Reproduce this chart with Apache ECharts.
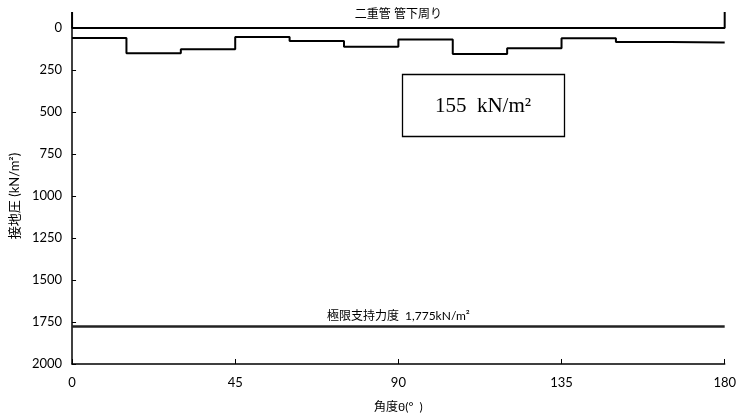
<!DOCTYPE html>
<html lang="ja">
<head>
    <meta charset="utf-8" />
    <title>接地圧</title>
    <script src="https://cdn.jsdelivr.net/npm/echarts@6/dist/echarts.min.js"></script>
    <style>
        html, body { margin: 0; padding: 0; background: #fff; }
        #main { width: 739px; height: 418px; }
    </style>
</head>
<body>
    <div id="main"></div>
    <script>
        // 角度ごとの接地圧 (階段状)
        var angles = [0, 15, 30, 45, 60, 75, 90, 105, 120, 135, 150, 165, 180];
        var pressure = [60, 150, 127, 54, 77, 111, 69, 155, 121, 61, 83, 87, 87];
        // 二重管 管下周り の範囲
        var pipeRange = [0, 180];
        var pipeEnd = -95;
        var limitValue = 1775;
        var font = 'Lato, "Noto Sans CJK JP", sans-serif';

        var stepData = angles.map(function (a, i) { return [a, pressure[i]]; });
        var bracketData = [
            [pipeRange[0], pipeEnd], [pipeRange[0], 0],
            [pipeRange[1], 0], [pipeRange[1], pipeEnd]
        ];

        var chart = echarts.init(document.getElementById('main'));
        chart.setOption({
            animation: false,
            textStyle: { fontFamily: font },
            grid: { left: 70, right: 10, top: 28, bottom: 54 },
            xAxis: {
                type: 'value',
                min: 0, max: 180, interval: 45,
                name: '角度θ(°  )',
                nameLocation: 'middle',
                nameGap: 37,
                nameTextStyle: { fontSize: 12, color: '#000', fontFamily: font },
                axisLine: { onZero: false, lineStyle: { color: '#000', width: 1.5 } },
                axisTick: { inside: true, length: 5, lineStyle: { color: '#000' } },
                axisLabel: { color: '#000', fontSize: 13, margin: 12 },
                splitLine: { show: false }
            },
            yAxis: {
                type: 'value',
                inverse: true,
                min: 0, max: 2000, interval: 250,
                name: '接地圧 (kN/m²)',
                nameLocation: 'middle',
                nameGap: 42,
                nameTextStyle: { fontSize: 13, color: '#000', fontFamily: font },
                axisLine: { show: true, lineStyle: { color: '#000', width: 1.5 } },
                axisTick: { show: true, inside: true, length: 4, lineStyle: { color: '#000' } },
                axisLabel: {
                    color: '#000', fontSize: 13, margin: 10,
                    formatter: function (v) { return String(v); }
                },
                splitLine: { show: false }
            },
            series: [
                {
                    type: 'line',
                    data: stepData,
                    step: 'end',
                    symbol: 'none',
                    lineStyle: { color: '#000', width: 2 }
                },
                {
                    type: 'line',
                    data: bracketData,
                    symbol: 'none',
                    clip: false,
                    lineStyle: { color: '#000', width: 2 },
                    markLine: {
                        silent: true,
                        symbol: 'none',
                        lineStyle: { color: '#000', width: 2, type: 'solid' },
                        label: {
                            position: 'insideMiddleTop',
                            distance: 8,
                            color: '#000',
                            fontSize: 12,
                            fontFamily: font,
                            formatter: '二重管 管下周り'
                        },
                        data: [{ yAxis: 0 }]
                    }
                },
                {
                    type: 'line',
                    data: [],
                    markLine: {
                        silent: true,
                        symbol: 'none',
                        lineStyle: { color: '#222', width: 2.5, type: 'solid' },
                        label: {
                            position: 'insideMiddleTop',
                            distance: 4,
                            color: '#000',
                            fontSize: 12,
                            fontFamily: font,
                            formatter: '極限支持力度  1,775kN/m²'
                        },
                        data: [{ yAxis: limitValue }]
                    }
                }
            ],
            graphic: [
                {
                    type: 'rect',
                    shape: { x: 402.5, y: 74.5, width: 162, height: 62 },
                    style: { fill: '#fff', stroke: '#000', lineWidth: 1.3 }
                },
                {
                    type: 'text',
                    x: 483, y: 106,
                    style: {
                        text: '155  kN/m²',
                        font: '21px "Liberation Serif", "DejaVu Serif", serif',
                        fill: '#000',
                        align: 'center',
                        verticalAlign: 'middle'
                    }
                }
            ]
        });
    </script>
</body>
</html>
